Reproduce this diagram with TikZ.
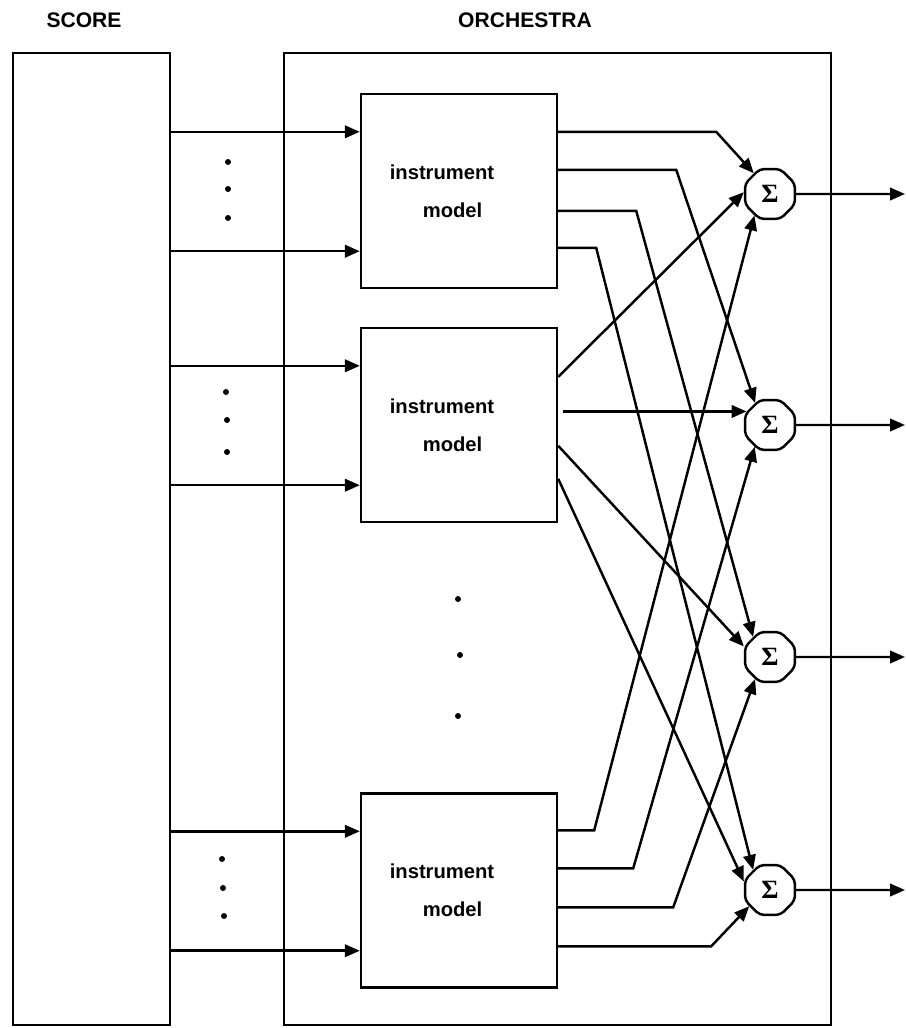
\documentclass[tikz,border=0pt]{standalone}
\usepackage{fontspec}
\setmainfont{Liberation Sans}
\newfontfamily\sigmafont{Liberation Serif}
\usetikzlibrary{arrows.meta, shapes.geometric, calc, fit}
\tikzset{
  every picture/.style={line width=1.4pt},
  frame/.style={draw, inner sep=0pt},
  instr/.style={draw, minimum width=3.92cm, minimum height=3.88cm, inner sep=0pt},
  sumnode/.style={draw, regular polygon, regular polygon sides=8, minimum size=1.08cm, inner sep=0pt, rounded corners=2.5pt, font=\sigmafont\bfseries\fontsize{15}{17}\selectfont},
  arrow/.style={-{Triangle[length=0.3cm, width=0.25cm]}},
  title/.style={font=\bfseries\fontsize{12}{14}\selectfont},
  lbl/.style={font=\bfseries\fontsize{11.5}{21.6}\selectfont, align=left, inner sep=0pt},
}

\begin{document}
\begin{tikzpicture}[x=0.02cm, y=-0.02cm]
  \useasboundingbox (0,0) rectangle (906,1028);
  % ---------- score and orchestra
  \node[title] (scoretitle) at (84,20) {SCORE};
  \node[title] (orchtitle) at (525,20) {ORCHESTRA};
  \node[frame, fit={(13,53) (170,1025)}] (score) {};
  \node[frame, fit={(284,53) (831,1025)}] (orch) {};
  % ---------- instrument models, fed from the score
  \foreach \n/\y in {1/191, 2/425, 3/890.5} {
    \node[instr] (m\n) at (459,\y) {};
    \node[lbl] (t\n) at ([xshift=-0.34cm]m\n.center) {instrument\\\hspace*{0.66cm}model};
    \coordinate (a\n) at ($(m\n.north west)+(0,39)$);
    \coordinate (b\n) at ($(m\n.south west)+(0,-38)$);
    \draw[arrow] (score.east |- a\n) -- (a\n);
    \draw[arrow] (score.east |- b\n) -- (b\n);
  }
  \foreach \x/\y in {228/162, 228/189, 228/218, 226/392, 227/420, 227/452, 222/859, 223/888, 224/916, 458/599, 460/655, 458/716}
    \fill (\x,\y) circle (1.7pt);
  % ---------- mixers
  \foreach \k/\y in {1/194, 2/425, 3/657, 4/890} {
    \node[sumnode] (s\k) at (770,\y) {Σ};
    \coordinate (o\k) at (905,\y);
    \draw[arrow] (s\k) -- (o\k);
  }
  % ---------- first model to every mixer
  \foreach \k/\d/\l/\a in {1/39/158/128, 2/77/118/124, 3/118/78/130, 4/155/38/130}
    \draw[arrow] ($(m1.north east)+(0,\d)$) -- ++(\l,0) -- (s\k.\a);
  % ---------- second model
  \draw[arrow] ($(m2.north east)+(0,50)$) -- (s1.176);
  \draw[arrow] ([xshift=0.1cm]m2.east |- s2.150) -- (s2.150);
  \draw[arrow] ($(m2.north east)+(0,119)$) -- (s3.158);
  \draw[arrow] ($(m2.north east)+(0,152)$) -- (s4.162);
  % ---------- last model
  \foreach \k/\d/\l/\a in {1/38/36/234, 2/76/75/235, 3/115/115/236, 4/154/153/218}
    \draw[arrow] ($(m3.north east)+(0,\d)$) -- ++(\l,0) -- (s\k.\a);
\end{tikzpicture}
\end{document}
